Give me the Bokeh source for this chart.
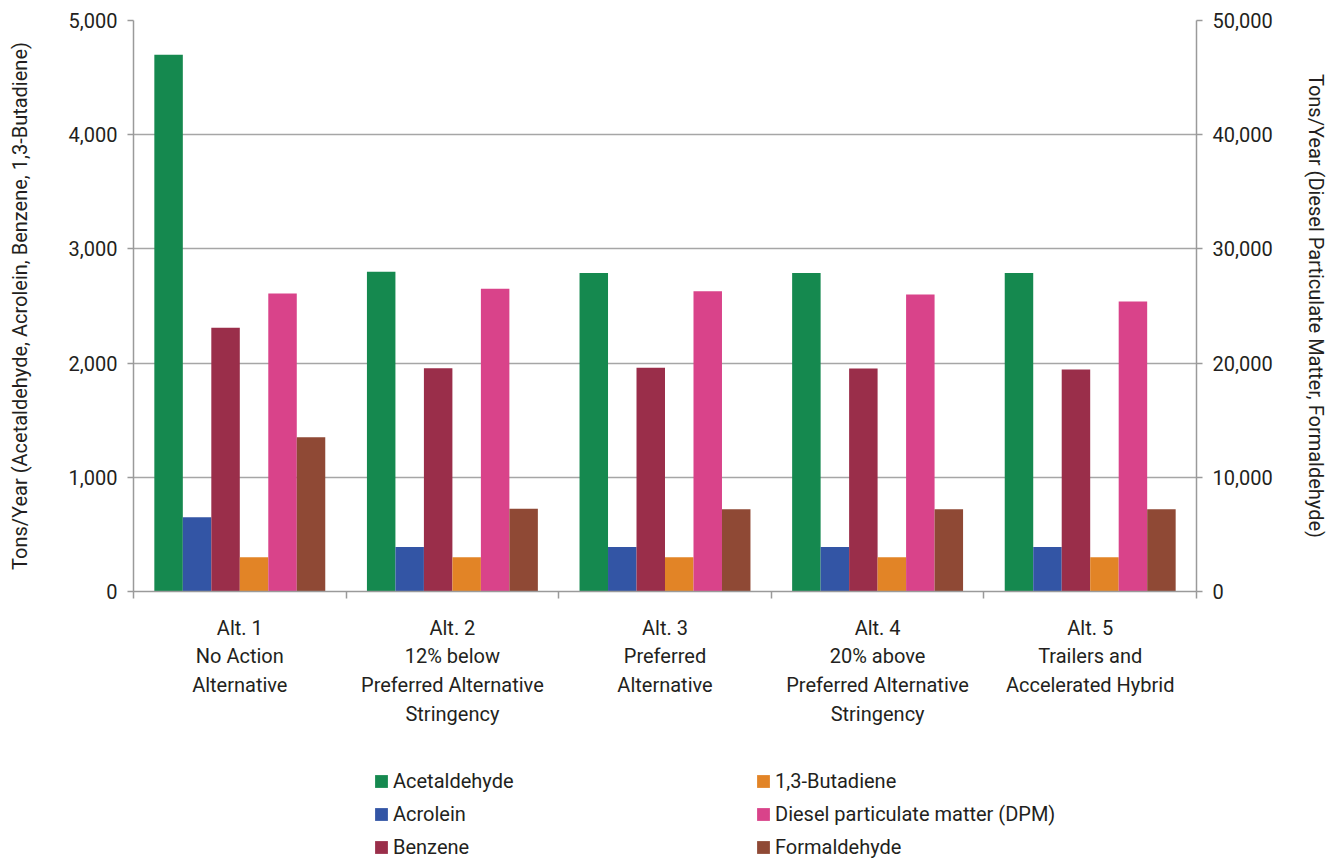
from bokeh.plotting import figure
from bokeh.layouts import column
from bokeh.models import (ColumnDataSource, Range1d, LinearAxis, FixedTicker,
                          NumeralTickFormatter, Legend, LegendItem)
from bokeh.transform import dodge
from bokeh.embed import file_html
from bokeh.resources import INLINE

# Alternatives (x-axis categories)
alternatives = [
    "Alt. 1\nNo Action\nAlternative",
    "Alt. 2\n12% below\nPreferred Alternative\nStringency",
    "Alt. 3\nPreferred\nAlternative",
    "Alt. 4\n20% above\nPreferred Alternative\nStringency",
    "Alt. 5\nTrailers and\nAccelerated Hybrid",
]

# Tons/year, left axis
acetaldehyde = [4700, 2800, 2790, 2790, 2790]
acrolein = [650, 390, 390, 390, 390]
benzene = [2310, 1955, 1960, 1953, 1944]
butadiene = [300, 300, 300, 300, 300]
# Tons/year, right axis
dpm = [26100, 26500, 26300, 26000, 25400]
formaldehyde = [13500, 7250, 7200, 7200, 7200]

left_ticks = [0, 1000, 2000, 3000, 4000, 5000]
right_ticks = [0, 10000, 20000, 30000, 40000, 50000]

series = [
    ("Acetaldehyde", acetaldehyde, "#15894f", "default"),
    ("Acrolein", acrolein, "#3355a5", "default"),
    ("Benzene", benzene, "#9a2e4a", "default"),
    ("1,3-Butadiene", butadiene, "#e28426", "default"),
    ("Diesel particulate matter (DPM)", dpm, "#d9438a", "right"),
    ("Formaldehyde", formaldehyde, "#8f4935", "right"),
]

FONT = "Roboto"
FSIZE = "20px"
TEXT = "#231f20"
AXIS = "#9a9a9a"

centers = [i + 0.5 for i in range(len(alternatives))]
src = ColumnDataSource({"x": centers, **{name: vals for name, vals, _, _ in series}})
bar_w = 0.134

p = figure(width=1330, height=740, output_backend="svg", toolbar_location=None,
           x_range=Range1d(0, len(alternatives)), y_range=Range1d(0, 5000),
           min_border_left=133, min_border_right=133, min_border_top=20,
           min_border_bottom=149)
p.extra_y_ranges = {"right": Range1d(0, 50000)}
p.outline_line_color = None
p.border_fill_color = "white"

for k, (name, vals, color, rng) in enumerate(series):
    p.vbar(x=dodge("x", (k - 2.5) * bar_w, range=p.x_range), top=name, width=bar_w,
           source=src, fill_color=color, line_color=None, y_range_name=rng)

# x axis: category labels at centers, boundary ticks as minor ticks
xa = p.xaxis[0]
xa.ticker = FixedTicker(ticks=centers, minor_ticks=list(range(len(alternatives) + 1)))
xa.major_label_overrides = {c: lab for c, lab in zip(centers, alternatives)}
xa.major_tick_line_color = None
xa.minor_tick_line_color = AXIS
xa.minor_tick_line_width = 1.5
xa.minor_tick_out = 7
xa.minor_tick_in = 0
xa.axis_line_color = AXIS
xa.axis_line_width = 1.5
xa.major_label_text_font = FONT
xa.major_label_text_font_size = FSIZE
xa.major_label_text_color = TEXT
xa.major_label_text_line_height = 1.2
xa.major_label_standoff = 17


def style_y(ax, label):
    ax.formatter = NumeralTickFormatter(format="0,0")
    ax.axis_label = label
    ax.axis_label_text_font = FONT
    ax.axis_label_text_font_style = "normal"
    ax.axis_label_text_font_size = FSIZE
    ax.axis_label_text_color = TEXT
    ax.major_label_text_font = FONT
    ax.major_label_text_font_size = FSIZE
    ax.major_label_text_color = TEXT
    ax.major_label_standoff = 10
    ax.axis_line_color = AXIS
    ax.axis_line_width = 1.5
    ax.major_tick_line_color = AXIS
    ax.major_tick_line_width = 1.5
    ax.major_tick_out = 6
    ax.major_tick_in = 0
    ax.minor_tick_line_color = None


ya = p.yaxis[0]
ya.ticker = FixedTicker(ticks=left_ticks)
style_y(ya, "Tons/Year (Acetaldehyde, Acrolein, Benzene, 1,3-Butadiene)")
ya.axis_label_standoff = 34

ra = LinearAxis(y_range_name="right", ticker=FixedTicker(ticks=right_ticks))
style_y(ra, "Tons/Year (Diesel Particulate Matter, Formaldehyde)")
ra.axis_label_standoff = 28
p.add_layout(ra, "right")

p.xgrid.grid_line_color = None
p.ygrid.ticker = FixedTicker(ticks=left_ticks)
p.ygrid.grid_line_color = "#a6a6a6"
p.ygrid.grid_line_width = 1.5

# legend strip beneath the chart; its bar renderers are hidden and only
# lend their colours to the legend swatches
lg_fig = figure(width=1330, height=119, output_backend="svg", toolbar_location=None,
                x_range=Range1d(0, len(alternatives)), y_range=Range1d(0, 50000),
                min_border=0, outline_line_color=None)
lg_fig.axis.visible = False
lg_fig.grid.visible = False
swatches = {}
for k, (name, vals, color, rng) in enumerate(series):
    swatches[name] = lg_fig.vbar(x=dodge("x", (k - 2.5) * bar_w, range=lg_fig.x_range),
                                 top=name, width=bar_w, source=src,
                                 fill_color=color, line_color=None, visible=False)


def make_legend(names, x):
    lg = Legend(items=[LegendItem(label=n, renderers=[swatches[n]]) for n in names],
                location=(x, 0), orientation="vertical",
                glyph_width=16, glyph_height=16, label_height=20,
                spacing=9, padding=0, margin=0, label_standoff=4,
                label_text_font=FONT, label_text_font_size=FSIZE,
                label_text_color=TEXT, border_line_color=None,
                background_fill_alpha=0, inactive_fill_alpha=0)
    lg_fig.add_layout(lg, "center")


make_legend(["Acetaldehyde", "Acrolein", "Benzene"], 240)
make_legend(["1,3-Butadiene", "Diesel particulate matter (DPM)", "Formaldehyde"], 622)

layout = column(p, lg_fig, spacing=0)
open("out.html", "w").write(file_html(layout, INLINE))
